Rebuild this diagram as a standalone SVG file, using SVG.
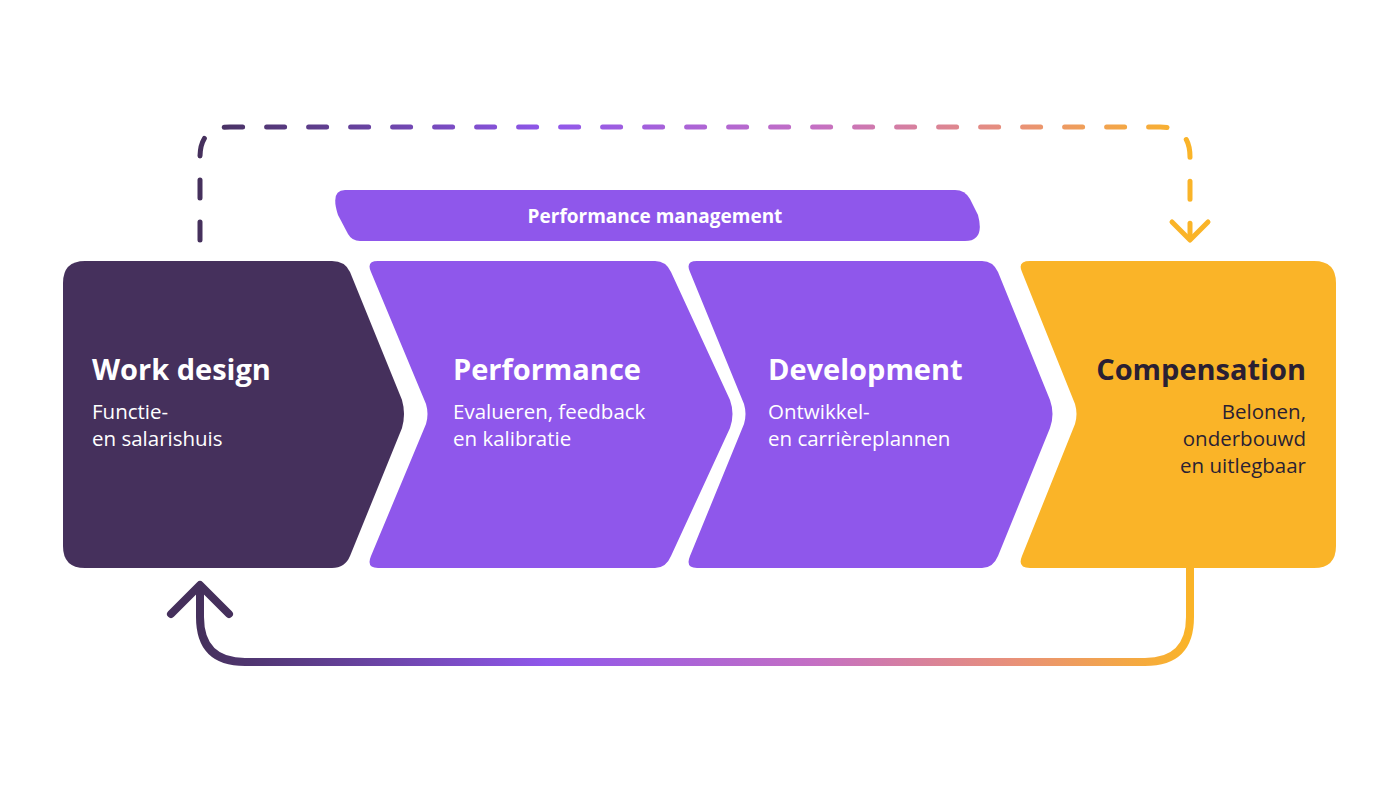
<svg xmlns="http://www.w3.org/2000/svg" width="1400" height="788" viewBox="0 0 1400 788">
<defs>
<linearGradient id="g" gradientUnits="userSpaceOnUse" x1="200" y1="0" x2="1190" y2="0">
<stop offset="0" stop-color="#45305c"/><stop offset="0.35" stop-color="#8f57eb"/><stop offset="0.62" stop-color="#c46fc4"/><stop offset="0.82" stop-color="#e8907a"/><stop offset="1" stop-color="#fab428"/>
</linearGradient>
<style>
.t{font-family:"Open Sans","Liberation Sans",sans-serif;font-weight:700;font-size:29px}
.s{font-family:"Open Sans","Liberation Sans",sans-serif;font-size:20.5px}
.w{fill:#fff}.d{fill:#2a1f33}
</style>
</defs>
<rect width="1400" height="788" fill="#fff"/>
<g id="connectors" fill="none" stroke="url(#g)" stroke-linecap="round" stroke-linejoin="round">
<path d="M200,240 V157 Q200,127 230,127 H1160 Q1190,127 1190,157 V238" stroke-width="5" stroke-dasharray="18,24"/>
<path d="M1172,222 L1190,240 L1208,222" stroke="#fab428" stroke-width="5"/>
<path d="M1190,568 V617 Q1190,662 1145,662 H245 Q200,662 200,617 V590" stroke-width="8"/>
<path d="M171,614 L200,585 L229,614" stroke="#45305c" stroke-width="8"/>
</g>
<g id="banner">
<path d="M345,190 H955 Q965,190 970,199 L978,215 Q985,241 965,241 H360 Q352,241 348,234 L338,215 Q330,190 345,190 Z" fill="#8f57eb"/>
<text x="655" y="223" text-anchor="middle" class="s w" style="font-weight:700;font-size:19px">Performance management</text>
</g>
<g id="work-design">
<path d="M85,261 H332 Q345,261 350,272 L402,400 Q406,414 402,428 L350,556 Q345,568 332,568 H85 Q63,568 63,546 V283 Q63,261 85,261 Z" fill="#45305c"/>
<text x="92" y="380" class="t w">Work design</text>
<text x="92" y="419" class="s w">Functie-</text>
<text x="92" y="446" class="s w">en salarishuis</text>
</g>
<g id="performance">
<path d="M378,261 H655 Q666,261 671,272 L730,400 Q735,414 730,428 L671,556 Q666,568 655,568 H378 Q366,568 371,556 L426,424 Q429,414 426,404 L371,272 Q366,261 378,261 Z" fill="#8f57eb"/>
<text x="453" y="380" class="t w">Performance</text>
<text x="453" y="419" class="s w">Evalueren, feedback</text>
<text x="453" y="446" class="s w">en kalibratie</text>
</g>
<g id="development">
<path d="M697,261 H982 Q993,261 998,272 L1050,400 Q1055,414 1050,428 L998,556 Q993,568 982,568 H697 Q685,568 690,556 L744,424 Q747,414 744,404 L690,272 Q685,261 697,261 Z" fill="#8f57eb"/>
<text x="768" y="380" class="t w">Development</text>
<text x="768" y="419" class="s w">Ontwikkel-</text>
<text x="768" y="446" class="s w">en carrièreplannen</text>
</g>
<g id="compensation">
<path d="M1030,261 H1314 Q1336,261 1336,283 V546 Q1336,568 1314,568 H1030 Q1017,568 1022,556 L1075,424 Q1078,414 1075,404 L1022,272 Q1017,261 1030,261 Z" fill="#fab428"/>
<text x="1306" y="380" text-anchor="end" class="t d">Compensation</text>
<text x="1306" y="419" text-anchor="end" class="s d">Belonen,</text>
<text x="1306" y="446" text-anchor="end" class="s d">onderbouwd</text>
<text x="1306" y="473" text-anchor="end" class="s d">en uitlegbaar</text>
</g>
</svg>
